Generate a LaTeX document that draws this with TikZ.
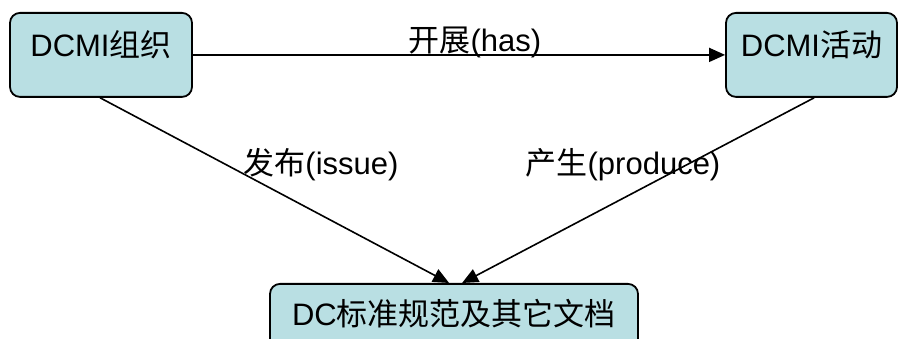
\documentclass[tikz,border=0pt]{standalone}
\usepackage{fontspec}
\setmainfont{Liberation Sans}
\newfontfamily\cjk{Noto Sans CJK SC}
\usetikzlibrary{arrows.meta}
\definecolor{boxfill}{RGB}{185,223,227}

\begin{document}
\begin{tikzpicture}[x=1pt, y=-1pt,
    box/.style={draw, line width=1.8pt, rounded corners=10pt, fill=boxfill,
      inner sep=0pt, font=\fontsize{31}{37}\selectfont},
    link/.style={line width=1.6pt, -{Triangle[length=16pt,width=14pt]}},
    lbl/.style={inner sep=0pt, anchor=base, font=\fontsize{31}{37}\selectfont}]
    \useasboundingbox (0,0) rectangle (898,339);
    \clip (0,0) rectangle (898,339);

    % the three boxes
    \node[box, anchor=north, minimum width=182pt, text height=44pt, text depth=40pt]
      (org) at (101,12) {DCMI{\cjk 组织}};
    \node[box, anchor=north, minimum width=171pt, text height=44pt, text depth=40pt]
      (act) at (811.5,12) {DCMI{\cjk 活动}};
    \node[box, anchor=north, minimum width=368pt, text height=42pt, text depth=60pt]
      (doc) at (454,283) {DC{\cjk 标准规范及其它文档}};

    % relations
    \draw[link] (org.east) to node[lbl, pos=0.53, yshift=3pt]{{\cjk 开展}(has)}
      (act.west);
    \draw[link] ([xshift=91pt]org.south west) -- ([xshift=180pt]doc.north west);
    \draw[link] ([xshift=89pt]act.south west) -- ([xshift=193pt]doc.north west);

    \node[lbl] (issue) at (321,175) {{\cjk 发布}(issue)};
    \node[lbl] (produce) at (623,175) {{\cjk 产生}(produce)};
\end{tikzpicture}
\end{document}
